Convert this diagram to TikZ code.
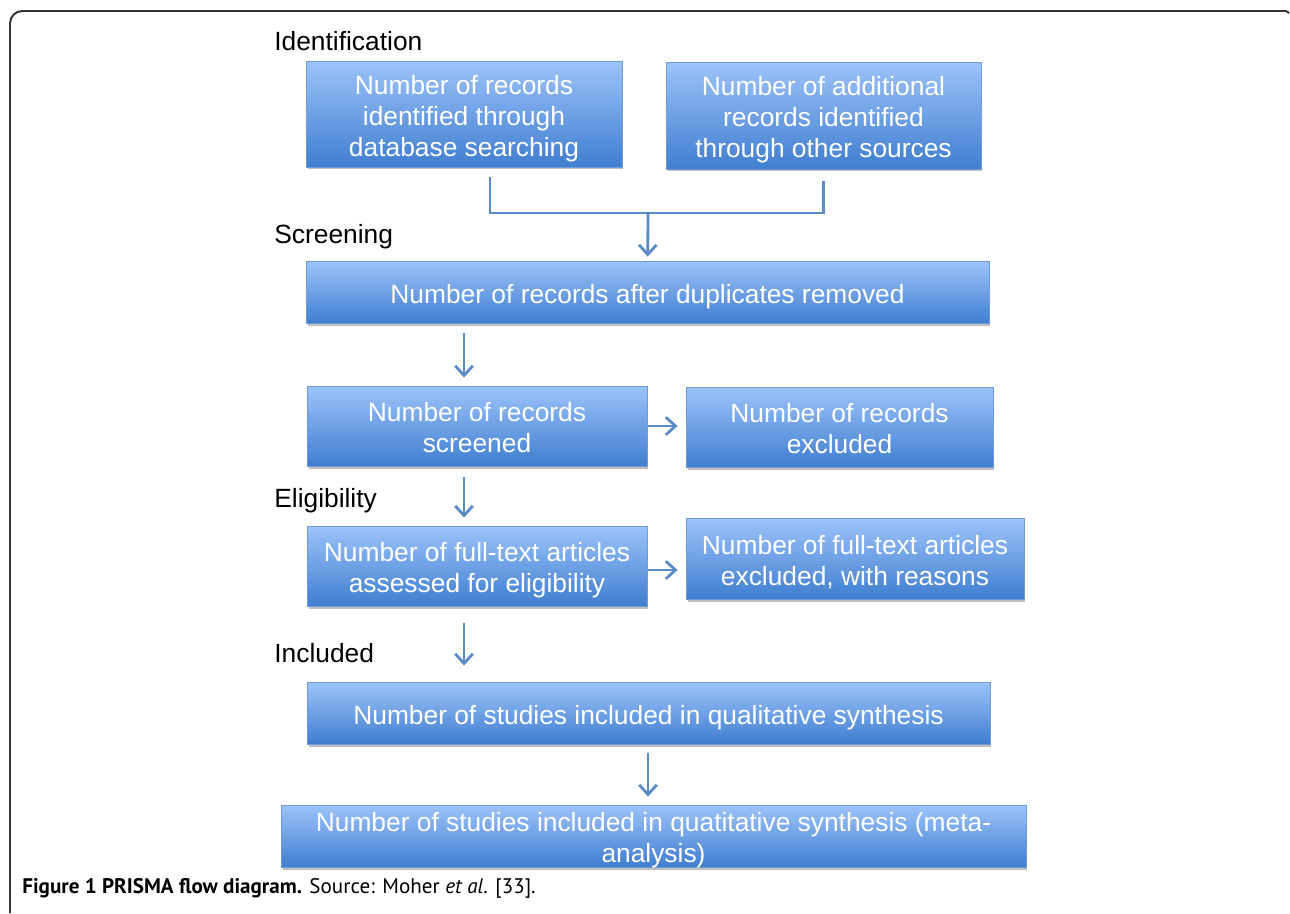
\documentclass[tikz,border=0pt]{standalone}
\usepackage{fontspec}
\setmainfont{Liberation Sans}
\newfontfamily\capfont{PT Sans}
\usetikzlibrary{arrows.meta, shadows}
\definecolor{boxtop}{HTML}{9DC3FA}
\definecolor{boxbot}{HTML}{3F7ECF}
\definecolor{boxedge}{HTML}{6F9BD8}
\definecolor{flow}{HTML}{5B8BC6}
\definecolor{framegray}{HTML}{333333}
\newcommand{\boxlines}[1]{\raisebox{-2.8pt}[\height][\depth]{\begin{tabular}{@{}c@{}}#1\end{tabular}}}

\begin{document}
\begin{tikzpicture}[
    x=0.02cm, y=-0.02cm,
    box/.style={draw=boxedge, line width=0.5pt, top color=boxtop, bottom color=boxbot,
        text=white, align=center, inner sep=0pt,
        font=\fontsize{15pt}{17.6pt}\selectfont,
        drop shadow={shadow xshift=0.03cm, shadow yshift=-0.05cm, opacity=0.25, fill=black}},
    stage/.style={anchor=base west, inner sep=0pt, font=\fontsize{15pt}{17.6pt}\selectfont},
    conn/.style={draw=flow, line width=1.6pt},
    arr/.style={conn, -{Straight Barb[length=5.5pt, width=10pt]}, shorten >=0.16cm}
]
\useasboundingbox (0,0) rectangle (1290,913);

% Frame
\draw[framegray, line width=1.1pt, rounded corners=7pt] (10,913) -- (10,11) -- (1286,11);
\draw[framegray, line width=1.1pt] (1286,11) -- (1289,13);

% Stages
\node[stage] (sid) at (274,50) {Identification};
\node[stage] (sscr) at (274,243) {Screening};
\node[stage] (selig) at (274,507) {Eligibility};
\node[stage] (sincl) at (274,662) {Included};

% Identification
\node[box, minimum width=6.32cm, minimum height=2.12cm] (db) at (464,114) {\boxlines{Number of records\\identified through\\database searching}};
\node[box, minimum width=6.3cm, minimum height=2.14cm] (other) at (823.5,115.5) {\boxlines{Number of additional\\records identified\\through other sources}};

% Screening
\node[box, minimum width=13.66cm, minimum height=1.24cm] (dup) at (647.5,292) {\boxlines{Number of records after duplicates removed}};
\node[box, minimum width=6.8cm, minimum height=1.6cm] (screened) at (477,426) {\boxlines{Number of records\\screened}};
\node[box, minimum width=6.14cm, minimum height=1.6cm] (excl) at (839.5,427) {\boxlines{Number of records\\excluded}};

% Eligibility
\node[box, minimum width=6.8cm, minimum height=1.6cm] (full) at (477,566) {\boxlines{Number of full-text articles\\assessed for eligibility}};
\node[box, minimum width=6.76cm, minimum height=1.62cm] (fullexcl) at (855,558.5) {\boxlines{Number of full-text articles\\excluded, with reasons}};

% Included
\node[box, minimum width=13.66cm, minimum height=1.24cm] (qual) at (648.5,713) {\boxlines{Number of studies included in qualitative synthesis}};
\node[box, minimum width=14.9cm, minimum height=1.24cm] (meta) at (653.5,836) {\boxlines{Number of studies included in quatitative synthesis (meta-\\analysis)}};

% Arrows
\coordinate (join) at (648,213);
\coordinate (colL) at (464,0);
\draw[conn] ([xshift=0.52cm, yshift=-0.2cm]db.south) |- (join) -| ([yshift=-0.24cm]other.south);
\draw[arr, shorten >=0.08cm] (join) -- (dup);
\draw[arr, shorten <=0.2cm] (dup.south -| colL) -- (screened.north -| colL);
\draw[arr, shorten <=0.02cm] (screened.east) -- (screened.east -| excl.west);
\draw[arr, shorten <=0.22cm] (screened.south -| colL) -- (full.north -| colL);
\draw[arr, shorten <=0.02cm] ([yshift=-0.08cm]full.east) -- ([yshift=-0.08cm]full.east -| fullexcl.west);
\draw[arr, shorten <=0.34cm, shorten >=0.32cm] (full.south -| colL) -- (qual.north -| colL);
\draw[arr, shorten <=0.18cm] (qual.south -| join) -- (meta.north -| join);

% Caption
\node[anchor=base west, inner sep=0pt, font=\capfont\fontsize{12pt}{14pt}\selectfont] (caption) at (22,893)
    {\textbf{Figure 1 PRISMA flow diagram.} Source: Moher \textit{et al}. [33].};

\end{tikzpicture}
\end{document}
